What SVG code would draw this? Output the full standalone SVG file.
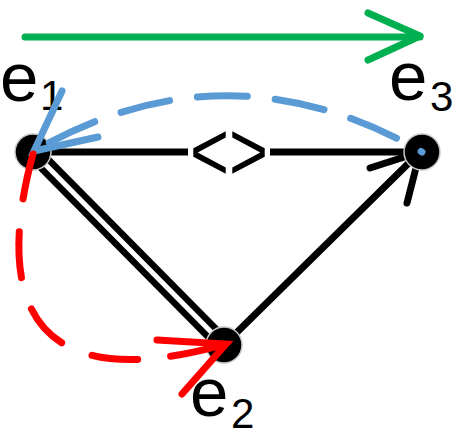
<svg xmlns="http://www.w3.org/2000/svg" width="460" height="440" viewBox="0 0 460 440">
<style>
.lbl{font-family:"Liberation Sans",Arial,sans-serif;fill:#000}
.main{font-size:69px}
.sub{font-size:42px}
.edge{stroke:#000;stroke-width:7;fill:none;stroke-linecap:round}
.node{fill:#000;stroke:#c8c8c8;stroke-width:1.5}
.blue{stroke:#5b9bd5;stroke-width:7;fill:none;stroke-linecap:round}
.red{stroke:#ff0000;stroke-width:7;fill:none;stroke-linecap:round}
.green{stroke:#00b050;stroke-width:7;fill:none;stroke-linecap:round;stroke-linejoin:round}
</style>
<rect width="460" height="440" fill="#fff"/>
<g id="connectors">
  <g id="e1-e3">
    <line class="edge" x1="33" y1="152" x2="422" y2="152" stroke-linecap="butt"/>
    <rect x="188" y="126" width="82" height="52" fill="#fff"/>
    <text class="lbl" x="229" y="180" font-size="84" text-anchor="middle" textLength="78" lengthAdjust="spacingAndGlyphs">&lt;&gt;</text>
  </g>
  <g id="e1-e2">
    <line x1="33" y1="152" x2="224" y2="345" stroke="#000" stroke-width="18"/>
    <line x1="33" y1="152" x2="224" y2="345" stroke="#fff" stroke-width="5"/>
  </g>
  <g id="e2-e3">
    <line class="edge" x1="224" y1="345" x2="420" y2="152"/>
    <polyline class="edge" points="370,168 420,152 407,203"/>
  </g>
</g>
<g id="e1"><circle class="node" cx="33" cy="152" r="18"/>
  <text class="lbl main" x="0" y="101">e</text><text class="lbl sub" x="40" y="110">1</text></g>
<g id="e2"><circle class="node" cx="224" cy="345" r="18"/>
  <text class="lbl main" x="190" y="416">e</text><text class="lbl sub" x="231" y="428">2</text></g>
<g id="e3"><circle class="node" cx="422" cy="152" r="18"/>
  <text class="lbl main" x="389" y="100">e</text><text class="lbl sub" x="430" y="111">3</text></g>
<g id="arrows">
  <g id="green-arrow">
    <line class="green" x1="25" y1="37" x2="420" y2="37"/>
    <polyline class="green" points="368,13 420,36 368,60"/>
  </g>
  <g id="blue-arrow">
    <path class="blue" d="M422,152 Q228,40 34,151" stroke-dasharray="50 28" stroke-dashoffset="49"/>
    <polyline class="blue" points="62,91 34,151 98,137"/>
  </g>
  <g id="red-arrow">
    <path class="red" d="M33,154 C0,275 10,405 226,344" stroke-dasharray="46 33"/>
    <polyline class="red" points="157,340 226,344 182,394"/>
  </g>
</g>
</svg>
